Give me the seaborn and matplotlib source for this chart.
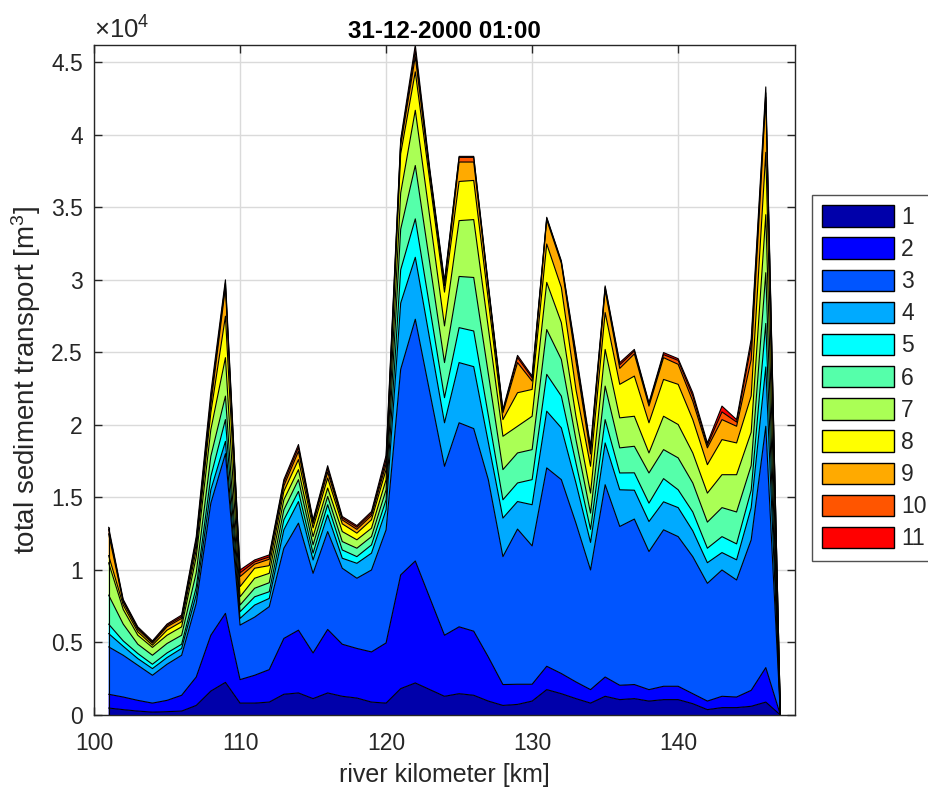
import numpy as np
import pandas as pd
import matplotlib
matplotlib.use("Agg")
import matplotlib.pyplot as plt
import seaborn as sns
from matplotlib.patches import Patch
from matplotlib.ticker import FuncFormatter, MultipleLocator

# river kilometre of each cross-section
river_km = [101, 102, 103, 104, 105, 106, 107, 108, 109, 110,
            111, 112, 113, 114, 115, 116, 117, 118, 119, 120,
            121, 122, 123, 124, 125, 126, 127, 128, 129, 130,
            131, 132, 133, 134, 135, 136, 137, 138, 139, 140,
            141, 142, 143, 144, 145, 146, 147]

# cumulative sediment transport [m3] up to and including size fraction n
upto_1 = [480, 370, 270, 200, 230, 270, 660, 1650, 2250, 820,
          820, 890, 1430, 1520, 1130, 1520, 1290, 1170, 890, 820,
          1820, 2210, 1750, 1290, 1470, 1360, 960, 660, 730, 960,
          1750, 1470, 1130, 820, 1290, 1060, 1130, 960, 1060, 1060,
          780, 370, 510, 510, 600, 890, 0]
upto_2 = [1430, 1240, 1010, 820, 1010, 1360, 2620, 5500, 7010, 2440,
          2740, 3130, 5280, 5850, 4280, 5900, 4880, 4590, 4350, 4970,
          9660, 10620, 8060, 5500, 6080, 5780, 4000, 2100, 2120, 2120,
          3360, 2860, 2280, 1750, 2620, 2050, 2100, 1750, 1980, 1980,
          1470, 960, 1290, 1240, 1700, 3270, 0]
upto_3 = [4700, 4120, 3430, 2740, 3500, 4120, 7700, 14610, 18020, 6200,
          6750, 7470, 11500, 13230, 9770, 12650, 10120, 9430, 10000, 12770,
          23840, 27290, 22220, 17150, 20150, 19750, 16230, 10920, 12820, 11660,
          17040, 16230, 13230, 10000, 15880, 13000, 13510, 11270, 12770, 12300,
          10920, 9080, 10000, 9310, 12080, 19910, 0]
upto_4 = [5620, 4740, 3890, 3200, 3960, 4590, 8300, 15530, 18870, 6660,
          7580, 8040, 12770, 14720, 10690, 13800, 10810, 10460, 11160, 14150,
          28400, 31560, 25860, 20150, 24300, 24020, 18800, 13580, 14720, 14500,
          20950, 19800, 16000, 11900, 18760, 15530, 15500, 13340, 14700, 14300,
          12700, 10500, 11200, 10700, 14300, 24000, 0]
upto_5 = [6270, 5110, 4240, 3500, 4280, 4880, 8800, 16450, 20370, 7120,
          8150, 8500, 13460, 15420, 11160, 14500, 11380, 10920, 11730, 14840,
          30700, 34210, 28050, 21880, 26710, 26480, 20660, 14840, 16000, 16230,
          23490, 21990, 17380, 12800, 20370, 16690, 16700, 14610, 16300, 15530,
          14000, 11500, 12300, 11800, 15500, 27000, 0]
upto_6 = [8270, 6270, 4880, 4120, 4930, 5500, 9800, 17840, 21990, 7580,
          8740, 9120, 14150, 16230, 11730, 15070, 11960, 11500, 12300, 15530,
          33500, 37890, 31100, 24300, 30240, 30170, 23540, 16920, 18070, 18300,
          26580, 24520, 18990, 13920, 22680, 18420, 18530, 16690, 18300, 17730,
          16000, 13300, 14300, 14000, 17200, 30500, 0]
upto_7 = [10500, 7280, 5500, 4660, 5500, 6080, 10900, 19680, 24640, 8150,
          9430, 9770, 14840, 16920, 12300, 15650, 12650, 12080, 12880, 16230,
          36000, 41700, 34270, 26830, 34090, 34160, 26690, 19220, 19910, 20600,
          29830, 27060, 20600, 15300, 25210, 20490, 20600, 18070, 20600, 20030,
          18070, 15300, 16570, 16570, 19500, 34500, 0]
upto_8 = [11000, 7580, 5730, 4810, 5850, 6430, 11400, 20840, 27500, 8850,
          10120, 10300, 15420, 17610, 12900, 16340, 13180, 12540, 13460, 16920,
          38700, 44350, 36760, 29160, 36790, 36860, 28620, 20370, 22220, 22450,
          32480, 29480, 22450, 17150, 27750, 22800, 23370, 20150, 23140, 22800,
          20370, 17260, 18990, 18760, 22000, 38800, 0]
upto_9 = [12500, 7790, 5900, 4950, 6080, 6660, 11800, 21410, 29500, 9540,
          10400, 10740, 15800, 18180, 13200, 16750, 13450, 12800, 13750, 17300,
          39300, 45390, 37300, 29600, 38130, 38130, 29480, 20840, 24300, 23020,
          34150, 31150, 24400, 18000, 29300, 23900, 24900, 21300, 24640, 24180,
          21640, 18420, 20370, 19910, 24500, 42600, 0]
upto_10 = [12800, 7880, 5990, 5030, 6180, 6780, 12050, 21760, 29800, 9800,
           10560, 10900, 16050, 18450, 13350, 17000, 13580, 12950, 13900, 17600,
           39500, 45800, 37450, 29800, 38450, 38450, 29600, 20950, 24650, 23250,
           34260, 31250, 24800, 18300, 29500, 24150, 25100, 21450, 24850, 24450,
           22000, 18600, 20900, 20200, 25500, 42900, 0]
upto_11 = [12950, 7970, 6080, 5110, 6270, 6890, 12300, 22220, 30010, 10000,
           10690, 11040, 16230, 18650, 13460, 17190, 13690, 13060, 14030, 17900,
           39700, 46200, 37600, 29940, 38520, 38520, 29700, 21070, 24800, 23370,
           34320, 31320, 24990, 18530, 29590, 24300, 25210, 21530, 24990, 24570,
           22220, 18760, 21300, 20370, 25910, 43310, 0]

fraction_labels = ["1", "2", "3", "4", "5", "6", "7", "8", "9", "10", "11"]
fraction_colors = ["#0000AA", "#0000FF", "#0055FF", "#00AAFF", "#00FFFF",
                   "#55FFAA", "#AAFF55", "#FFFF00", "#FFAA00", "#FF5500",
                   "#FF0000"]
title_text = "31-12-2000 01:00"
x_label = "river kilometer [km]"
y_label = r"total sediment transport [m$^\mathregular{3}$]"
x_ticks = [100, 110, 120, 130, 140]

sns.set_style("ticks")
plt.rcParams["font.family"] = ["Liberation Sans", "DejaVu Sans"]
plt.rcParams["mathtext.fontset"] = "custom"
plt.rcParams["mathtext.rm"] = "Liberation Sans"
plt.rcParams["mathtext.it"] = "Liberation Sans:italic"
plt.rcParams["mathtext.bf"] = "Liberation Sans:bold"

ink = "#262626"
W, H = 929, 787
fig = plt.figure(figsize=(W / 100, H / 100), dpi=100)
ax = fig.add_axes([94 / W, 1 - 715 / H, 701 / W, 670 / H])

uppers = [upto_1, upto_2, upto_3, upto_4, upto_5, upto_6,
          upto_7, upto_8, upto_9, upto_10, upto_11]
levels = [np.zeros(len(river_km))] + [np.asarray(u, dtype=float) for u in uppers]

# coloured bands between successive cumulative levels
for i, color in enumerate(fraction_colors):
    ax.fill_between(river_km, levels[i], levels[i + 1], facecolor=color,
                    edgecolor="none", linewidth=0, zorder=2)

# black boundary line on top of every fraction
long = pd.DataFrame({
    "km": np.tile(river_km, len(uppers)),
    "level": np.concatenate([np.asarray(u, dtype=float) for u in uppers]),
    "fraction": np.repeat(fraction_labels, len(river_km)),
})
sns.lineplot(data=long, x="km", y="level", units="fraction", estimator=None,
             color="black", linewidth=0.8, ax=ax, legend=False, zorder=3)
ax.vlines(river_km[0], 0, upto_11[0], color="black", linewidth=0.8, zorder=3)

ax.set_xlim(100, 148)
ax.set_ylim(0, max(upto_11))
ax.set_xticks(x_ticks)
ax.yaxis.set_major_locator(MultipleLocator(5000))
ax.yaxis.set_major_formatter(FuncFormatter(lambda v, _: f"{v / 1e4:g}"))

ax.set_axisbelow(True)
ax.grid(True, color="#dadada", linewidth=1.0)
for side in ["top", "right", "bottom", "left"]:
    ax.spines[side].set_visible(True)
    ax.spines[side].set_color(ink)
    ax.spines[side].set_linewidth(1.0)
    ax.spines[side].set_zorder(5)
ax.tick_params(direction="in", length=6, width=1, top=True, right=True,
               labelsize=16.5, colors=ink, labelcolor=ink)
ax.tick_params(axis="x", pad=12)
ax.tick_params(axis="y", pad=8)

ax.set_xlabel(x_label, fontsize=18, color=ink, labelpad=6)
ax.set_ylabel(y_label, fontsize=20, color=ink, labelpad=6)
ax.set_title(title_text, fontsize=17.5, fontweight="bold", color="black", pad=5)
ax.text(0.0, 1.002, r"×10$^{\mathregular{4}}$", transform=ax.transAxes,
        ha="left", va="bottom", fontsize=18.5, color=ink)

handles = [Patch(facecolor=c, edgecolor="black", linewidth=1.0) for c in fraction_colors]
leg = fig.legend(handles, fraction_labels, loc="upper left",
                 bbox_to_anchor=(812 / W, 1 - 195 / H), bbox_transform=fig.transFigure,
                 frameon=True, fancybox=False, edgecolor=ink, fontsize=16.5,
                 handlelength=3.15, handleheight=1.05, labelspacing=0.38,
                 handletextpad=0.3, borderpad=0.45, borderaxespad=0)
leg.get_frame().set_linewidth(1.0)

fig.savefig("out.png", dpi=100)
